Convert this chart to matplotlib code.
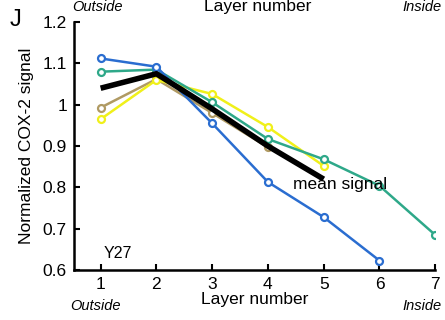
import matplotlib.pyplot as plt

plt.rcParams['font.family'] = ['Liberation Sans', 'DejaVu Sans']

layers = [1, 2, 3, 4, 5, 6, 7]
blue = [1.112, 1.092, 0.955, 0.813, 0.728, 0.623]
teal = [1.080, 1.085, 1.006, 0.917, 0.868, 0.804, 0.685]
yellow = [0.965, 1.060, 1.026, 0.946, 0.852]
tan = [0.993, 1.062, 0.980, 0.897]
mean = [1.040, 1.075, 0.990, 0.900, 0.820]

fig = plt.figure(figsize=(4.45, 3.2), dpi=100)
ax = fig.add_axes([0.166, 0.156, 0.812, 0.775])

mk = dict(marker='o', markersize=5, markerfacecolor='white', markeredgewidth=1.6, linewidth=1.8)
ax.plot(layers[:len(tan)], tan, color='#b09a63', **mk)
ax.plot(layers[:len(yellow)], yellow, color='#f0f01a', **mk)
ax.plot(layers[:len(teal)], teal, color='#2ea889', **mk)
ax.plot(layers[:len(blue)], blue, color='#2a6dd0', **mk)
ax.plot(layers[:len(mean)], mean, color='black', linewidth=4, solid_capstyle='butt')

ax.set_xlim(0.52, 7)
ax.set_ylim(0.6, 1.2)
ax.set_xticks(layers)
ax.set_yticks([0.6, 0.7, 0.8, 0.9, 1.0, 1.1, 1.2])
ax.set_yticklabels(['0.6', '0.7', '0.8', '0.9', '1', '1.1', '1.2'])
ax.tick_params(direction='in', length=4, width=1.5, labelsize=12.5, pad=5)
for s in ['top', 'right']:
    ax.spines[s].set_visible(False)
for s in ['left', 'bottom']:
    ax.spines[s].set_linewidth(1.8)

ax.set_ylabel('Normalized COX-2 signal', fontsize=12.5, labelpad=6)
ax.set_xlabel('Layer number', fontsize=12.5, labelpad=0)
ax.text(1.3, 0.64, 'Y27', fontsize=11.5, ha='center', va='center')
ax.text(5.3, 0.808, 'mean signal', fontsize=12.5, ha='center', va='center')

fig.text(95/445, 1 - 306/320, 'Outside', fontsize=10.5, style='italic', ha='center', va='center')
fig.text(422/445, 1 - 306/320, 'Inside', fontsize=10.5, style='italic', ha='center', va='center')
fig.text(97/445, 1 - 7/320, 'Outside', fontsize=10.5, style='italic', ha='center', va='center')
fig.text(258/445, 1 - 7/320, 'Layer number', fontsize=12.5, ha='center', va='center')
fig.text(442/445, 1 - 7/320, 'Inside', fontsize=10.5, style='italic', ha='right', va='center')
fig.text(16/445, 1 - 20/320, 'J', fontsize=17, ha='center', va='center')

fig.savefig('out.png', dpi=100)
